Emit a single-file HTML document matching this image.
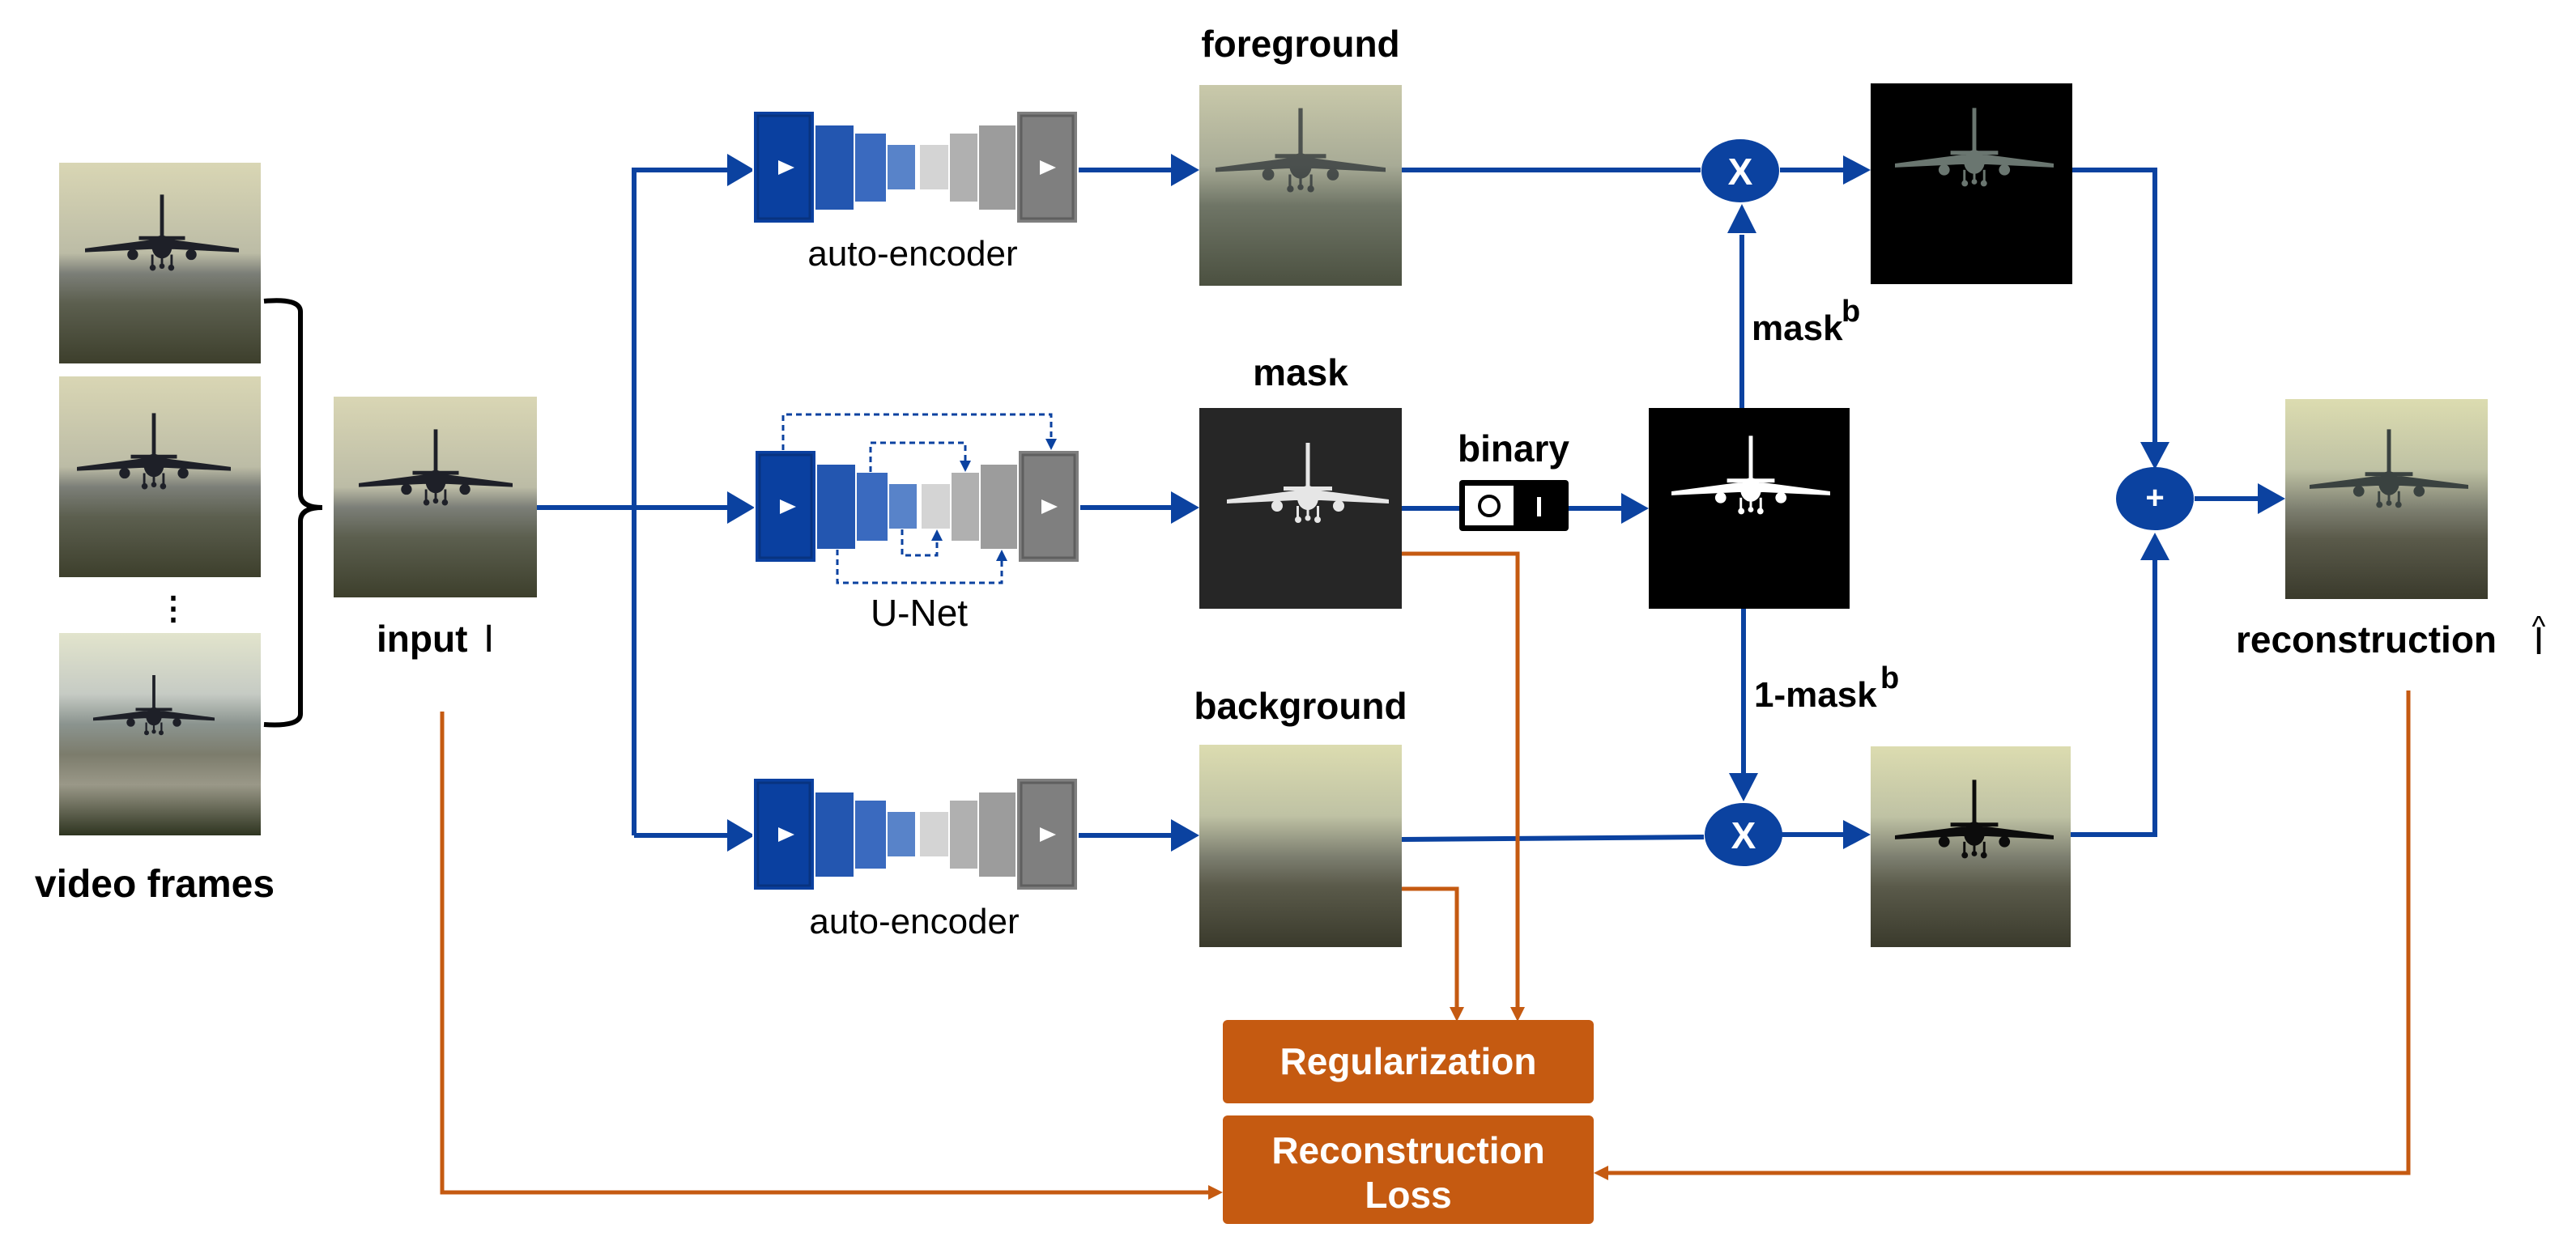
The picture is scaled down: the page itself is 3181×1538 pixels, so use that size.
<!DOCTYPE html>
<html><head><meta charset="utf-8"><style>
html,body{margin:0;padding:0;background:#fff;}
svg{display:block;}
text{font-family:"Liberation Sans",Arial,sans-serif;}
</style></head><body>
<svg width="3181" height="1538" viewBox="0 0 3181 1538" xmlns="http://www.w3.org/2000/svg">
<defs>
<marker id="ab" markerWidth="10" markerHeight="10" refX="9" refY="5" orient="auto" markerUnits="userSpaceOnUse" viewBox="0 0 10 10">
</marker>
<linearGradient id="sky" x1="0" y1="0" x2="0" y2="1">
<stop offset="0" stop-color="#d9d6b4"/><stop offset="0.45" stop-color="#bcbca6"/><stop offset="0.55" stop-color="#7c7f78"/><stop offset="0.7" stop-color="#5c5f4f"/><stop offset="1" stop-color="#3d3f2c"/></linearGradient>
<linearGradient id="sky3" x1="0" y1="0" x2="0" y2="1">
<stop offset="0" stop-color="#e2e4cc"/><stop offset="0.3" stop-color="#c6cbc4"/><stop offset="0.45" stop-color="#8b948f"/><stop offset="0.6" stop-color="#7c7c6c"/><stop offset="0.75" stop-color="#9a9888"/><stop offset="1" stop-color="#2e3420"/></linearGradient>
<linearGradient id="fg" x1="0" y1="0" x2="0" y2="1">
<stop offset="0" stop-color="#c9c9aa"/><stop offset="0.4" stop-color="#a8ab96"/><stop offset="0.6" stop-color="#6f7566"/><stop offset="1" stop-color="#4b5040"/></linearGradient>
<linearGradient id="bg" x1="0" y1="0" x2="0" y2="1">
<stop offset="0" stop-color="#dcdcb0"/><stop offset="0.35" stop-color="#bfc2a4"/><stop offset="0.55" stop-color="#7d7f70"/><stop offset="0.7" stop-color="#5a5a4a"/><stop offset="1" stop-color="#3a3a2c"/></linearGradient>
<g id="plane">
<polygon points="-100,2 -16,-9 16,-9 100,2 100,7 16,3 -16,3 -100,7"/>
<rect x="-2.5" y="-68" width="5" height="62"/>
<polygon points="-30,-14 30,-14 30,-9 -30,-9"/>
<ellipse cx="0" cy="0" rx="13" ry="15"/>
<circle cx="-38" cy="10" r="7"/><circle cx="38" cy="10" r="7"/>
<rect x="-14" y="10" width="3" height="16"/><rect x="11" y="10" width="3" height="16"/><rect x="-1.5" y="10" width="3" height="14"/>
<circle cx="-12" cy="27" r="4"/><circle cx="12" cy="27" r="4"/><circle cx="0" cy="25" r="3.5"/>
</g>
</defs>

<!-- video frames -->
<g>
<rect x="73" y="201" width="249" height="248" fill="url(#sky)"/>
<use href="#plane" transform="translate(200,305) scale(0.95)" fill="#1e2028"/>
<rect x="73" y="465" width="249" height="248" fill="url(#sky)"/>
<use href="#plane" transform="translate(190,575) scale(0.95)" fill="#1e2028"/>
<rect x="73" y="782" width="249" height="250" fill="url(#sky3)"/>
<use href="#plane" transform="translate(190,885) scale(0.75)" fill="#1e2028"/>
<text x="214" y="765" font-size="40" font-weight="bold" text-anchor="middle">⋮</text>
<path d="M326,372 Q371,368 371,385 L371,610 Q371,627 398,627 Q371,627 371,644 L371,882 Q371,898 326,895" fill="none" stroke="#000" stroke-width="6"/>
<text x="191" y="1108" font-size="48" font-weight="bold" text-anchor="middle">video frames</text>
</g>

<!-- input -->
<rect x="412" y="490" width="251" height="248" fill="url(#sky)"/>
<use href="#plane" transform="translate(538,595) scale(0.95)" fill="#1e2028"/>
<text x="465" y="805" font-size="46" font-weight="bold">input</text>
<text x="597" y="805" font-size="48" font-family="Liberation Serif">I</text>

<!-- blue connectors -->
<g stroke="#0b42a0" stroke-width="6" fill="none">
<path d="M663,627 H900"/>
<path d="M783,1032 V210 H900"/>
<path d="M783,1032 H900"/>
<path d="M1331,210 H1448"/>
<path d="M1333,627 H1448"/>
<path d="M1331,1032 H1448"/>
<path d="M1731,210 H2100"/>
<path d="M2198,210 H2278"/>
<path d="M1731,628 H1802"/>
<path d="M1937,628 H2004"/>
<path d="M2151,504 V290"/>
<path d="M2153,752 V960"/>
<path d="M1731,1037 L2104,1034"/>
<path d="M2200,1031 H2278"/>
<path d="M2559,210 H2661 V548"/>
<path d="M2557,1031 H2661 V690"/>
<path d="M2710,616 H2790"/>
</g>
<g fill="#0b42a0">
<polygon points="898,190 932,210 898,230"/>
<polygon points="898,607 932,627 898,647"/>
<polygon points="898,1012 932,1032 898,1052"/>
<polygon points="1446,190 1481,210 1446,230"/>
<polygon points="1446,607 1481,627 1446,647"/>
<polygon points="1446,1012 1481,1032 1446,1052"/>
<polygon points="2276,192 2310,210 2276,228"/>
<polygon points="2002,609 2036,628 2002,647"/>
<polygon points="2133,288 2151,252 2169,288"/>
<polygon points="2135,955 2153,990 2171,955"/>
<polygon points="2276,1013 2310,1031 2276,1049"/>
<polygon points="2643,546 2661,580 2679,546"/>
<polygon points="2643,692 2661,658 2679,692"/>
<polygon points="2788,597 2822,616 2788,635"/>
</g>

<!-- encoder blocks -->
<g id="ae">
<rect x="930" y="137" width="76" height="139" fill="#0a40a0" stroke="#fff" stroke-width="2"/>
<rect x="936" y="143" width="64" height="127" fill="none" stroke="#083380" stroke-width="3"/>
<polygon points="961,198 981,207 961,216" fill="#fff"/>
<rect x="1006" y="154" width="49" height="106" fill="#2356b0" stroke="#fff" stroke-width="2"/>
<rect x="1055" y="164" width="40" height="86" fill="#3a6abf" stroke="#fff" stroke-width="2"/>
<rect x="1095" y="178" width="36" height="57" fill="#5883c9" stroke="#fff" stroke-width="2"/>
<rect x="1135" y="178" width="37" height="57" fill="#d4d4d4" stroke="#fff" stroke-width="2"/>
<rect x="1172" y="164" width="36" height="86" fill="#b0b0b0" stroke="#fff" stroke-width="2"/>
<rect x="1208" y="154" width="47" height="106" fill="#9c9c9c" stroke="#fff" stroke-width="2"/>
<rect x="1255" y="137" width="76" height="139" fill="#7f7f7f" stroke="#fff" stroke-width="2"/>
<rect x="1261" y="143" width="64" height="127" fill="none" stroke="#5f5f5f" stroke-width="3"/>
<polygon points="1284,198 1304,207 1284,216" fill="#fff"/>
</g>
<use href="#ae" transform="translate(2,419)"/>
<use href="#ae" transform="translate(0,824)"/>
<text x="1127" y="328" font-size="44" text-anchor="middle">auto-encoder</text>
<text x="1135" y="773" font-size="46" text-anchor="middle">U-Net</text>
<text x="1129" y="1153" font-size="44" text-anchor="middle">auto-encoder</text>
<!-- unet skips -->
<g stroke="#0b42a0" stroke-width="3" stroke-dasharray="7,5" fill="none">
<path d="M967,556 V512 H1298 V548"/>
<path d="M1075,583 V547 H1192 V575"/>
<path d="M1034,679 V720 H1237 V690"/>
<path d="M1114,654 V686 H1157 V668"/>
</g>
<g fill="#0b42a0">
<polygon points="1291,542 1305,542 1298,556"/>
<polygon points="1185,569 1199,569 1192,583"/>
<polygon points="1230,693 1244,693 1237,679"/>
<polygon points="1150,668 1164,668 1157,654"/>
</g>

<!-- middle images -->
<text x="1606" y="70" font-size="46" font-weight="bold" text-anchor="middle">foreground</text>
<rect x="1481" y="105" width="250" height="248" fill="url(#fg)"/>
<use href="#plane" transform="translate(1606,205) scale(1.05)" fill="#2c3236" opacity="0.75"/>
<text x="1606" y="476" font-size="46" font-weight="bold" text-anchor="middle">mask</text>
<rect x="1481" y="504" width="250" height="248" fill="#262626"/>
<use href="#plane" transform="translate(1615,615) scale(1.0)" fill="#e6e6e6"/>
<text x="1606" y="888" font-size="46" font-weight="bold" text-anchor="middle">background</text>
<rect x="1481" y="920" width="250" height="250" fill="url(#bg)"/>

<!-- binary switch -->
<text x="1869" y="570" font-size="46" font-weight="bold" text-anchor="middle">binary</text>
<rect x="1802" y="593" width="135" height="63" rx="4" fill="#000"/>
<rect x="1809" y="600" width="60" height="49" fill="#fff"/>
<circle cx="1839" cy="625" r="12" fill="none" stroke="#000" stroke-width="4"/>
<rect x="1898" y="614" width="5" height="24" fill="#fff"/>

<!-- binary mask -->
<rect x="2036" y="504" width="248" height="248" fill="#000"/>
<use href="#plane" transform="translate(2162,605) scale(0.98)" fill="#fff"/>
<text x="2163" y="420" font-size="44" font-weight="bold">mask</text>
<text x="2274" y="397" font-size="38" font-weight="bold">b</text>
<text x="2166" y="873" font-size="44" font-weight="bold">1-mask</text>
<text x="2322" y="850" font-size="38" font-weight="bold">b</text>

<!-- operators -->
<ellipse cx="2149" cy="211" rx="48" ry="39" fill="#0b42a0"/>
<text x="2149" y="228" font-size="46" font-weight="bold" fill="#fff" text-anchor="middle">X</text>
<ellipse cx="2153" cy="1031" rx="48" ry="39" fill="#0b42a0"/>
<text x="2153" y="1048" font-size="46" font-weight="bold" fill="#fff" text-anchor="middle">X</text>
<ellipse cx="2661" cy="616" rx="48" ry="39" fill="#0b42a0"/>
<text x="2661" y="628" font-size="40" font-weight="bold" fill="#fff" text-anchor="middle">+</text>

<!-- outputs -->
<rect x="2310" y="103" width="249" height="248" fill="#000"/>
<use href="#plane" transform="translate(2438,200) scale(0.98)" fill="#6a7670"/>
<rect x="2310" y="922" width="247" height="248" fill="url(#bg)"/>
<use href="#plane" transform="translate(2438,1030) scale(0.98)" fill="#0c0c0c"/>
<rect x="2822" y="493" width="250" height="247" fill="url(#bg)"/>
<use href="#plane" transform="translate(2950,597) scale(0.98)" fill="#3a4240"/>
<text x="2922" y="806" font-size="46" font-weight="bold" text-anchor="middle">reconstruction</text>
<text x="3135" y="808" font-size="48" font-family="Liberation Serif" text-anchor="middle">I</text>
<text x="3135" y="786" font-size="36" font-family="Liberation Serif" text-anchor="middle">^</text>

<!-- orange -->
<g stroke="#c55a11" stroke-width="5" fill="none">
<path d="M1731,684 H1874 V1248"/>
<path d="M1731,1098 H1799 V1248"/>
<path d="M546,879 V1473 H1496"/>
<path d="M2974,853 V1449 H1982"/>
</g>
<g fill="#c55a11">
<polygon points="1865,1244 1883,1244 1874,1262"/>
<polygon points="1790,1244 1808,1244 1799,1262"/>
<polygon points="1492,1464 1510,1473 1492,1482"/>
<polygon points="1986,1440 1968,1449 1986,1458"/>
</g>
<rect x="1510" y="1260" width="458" height="103" rx="6" fill="#c55a11"/>
<text x="1739" y="1327" font-size="46" font-weight="bold" fill="#fff" text-anchor="middle">Regularization</text>
<rect x="1510" y="1378" width="458" height="134" rx="6" fill="#c55a11"/>
<text x="1739" y="1437" font-size="46" font-weight="bold" fill="#fff" text-anchor="middle">Reconstruction</text>
<text x="1739" y="1492" font-size="46" font-weight="bold" fill="#fff" text-anchor="middle">Loss</text>
</svg>
</body></html>
